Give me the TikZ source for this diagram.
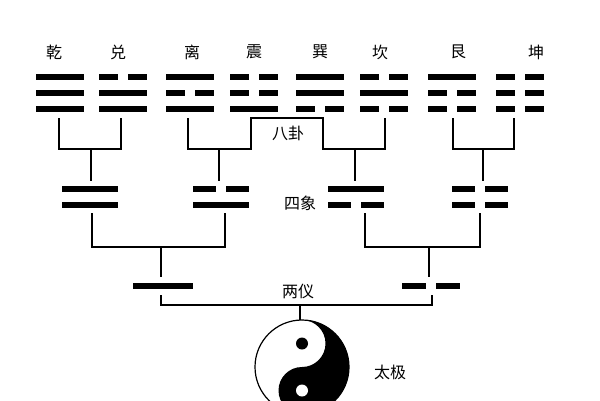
\documentclass[tikz,border=0pt]{standalone}
\usepackage{fontspec}
\newfontfamily\cjk{Noto Sans CJK SC}
\begin{document}
\begin{tikzpicture}[x=1pt,y=-1pt,
  yao/.style={line width=5.5pt},
  conn/.style={line width=1.3pt},
  lbl/.style={font=\cjk\fontsize{16}{16}\selectfont, inner sep=0pt}]
\useasboundingbox (0,0) rectangle (600,400);
\fill[white] (0,0) rectangle (600,400);
\def\yaoS#1#2#3{\draw[yao] (#1-#3,#2) -- (#1+#3,#2);}
\def\yaoB#1#2#3{\draw[yao] (#1-#3,#2) -- (#1-5,#2); \draw[yao] (#1+5,#2) -- (#1+#3,#2);}
\def\tri#1#2#3#4{\csname yao#2\endcsname{#1}{77}{24}\csname yao#3\endcsname{#1}{93}{24}\csname yao#4\endcsname{#1}{109}{24}}
\tri{60}{S}{S}{S}
\tri{123}{B}{S}{S}
\tri{190}{S}{B}{S}
\tri{254}{B}{B}{S}
\tri{320}{S}{S}{B}
\tri{384}{B}{S}{B}
\tri{452}{S}{B}{B}
\tri{520}{B}{B}{B}
\node[lbl] (q) at (54,52) {乾};
\node[lbl] (d) at (118,52) {兑};
\node[lbl] (l) at (192,52) {离};
\node[lbl] (z) at (254,52) {震};
\node[lbl] (x) at (320,52) {巽};
\node[lbl] (k) at (380,52) {坎};
\node[lbl] (g) at (458,52) {艮};
\node[lbl] (kn) at (536,52) {坤};
\node[lbl] (bagua) at (288,133) {八卦};
\node[lbl] (sixiang) at (300,203) {四象};
\node[lbl] (liangyi) at (298,291) {两仪};
\node[lbl] (taiji) at (390,372) {太极};
\draw[conn] (59,118) |- (121,149) -- (121,118);
\draw[conn] (91,149) -- (91,181);
\draw[conn] (188,118) |- (251,149) |- (323,118) |- (385,149) -- (385,118);
\draw[conn] (219,149) -- (219,181);
\draw[conn] (355,149) -- (355,181);
\draw[conn] (453,118) |- (514,149) -- (514,118);
\draw[conn] (483,149) -- (483,181);
\def\di#1#2#3{\csname yao#2\endcsname{#1}{189}{28}\csname yao#3\endcsname{#1}{205}{28}}
\di{90}{S}{S}
\di{221}{B}{S}
\di{356}{S}{B}
\di{480}{B}{B}
\draw[conn] (92,213) |- (225,247) -- (225,213);
\draw[conn] (161,247) -- (161,277);
\draw[conn] (365,213) |- (480,247) -- (480,213);
\draw[conn] (429,247) -- (429,277);
\yaoS{163}{286}{30}
\yaoB{431}{286}{29}
\draw[conn] (161,295) |- (432,305) -- (432,295);
\draw[conn] (300,305) -- (300,320);
\begin{scope}[shift={(302,367)},x=1pt,y=1pt]
\def\R{47}
\fill[white] (0,0) circle (\R);
\fill[black] (0,\R) arc[start angle=90,end angle=-90,radius=\R]
  arc[start angle=-90,end angle=-270,radius=\R/2]
  arc[start angle=-90,end angle=90,radius=\R/2] -- cycle;
\draw[line width=1.2pt] (0,0) circle (\R);
\fill[black] (0,\R/2) circle (6);
\fill[white] (0,-\R/2) circle (6);
\end{scope}
\end{tikzpicture}
\end{document}
